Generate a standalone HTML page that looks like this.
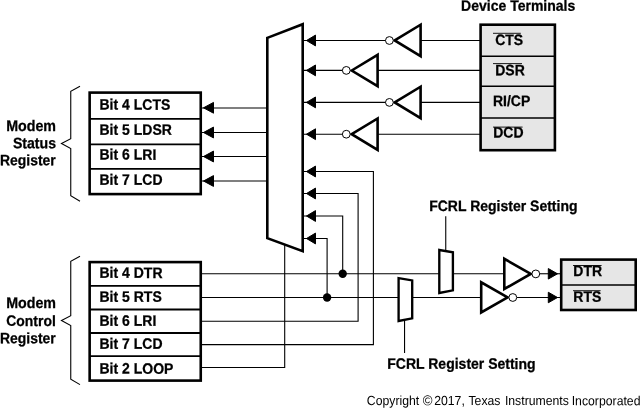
<!DOCTYPE html><html><head><meta charset="utf-8"><style>
html,body{margin:0;padding:0;background:#fff;}
svg{display:block;filter:grayscale(1);}
text{font-family:"Liberation Sans",sans-serif;fill:#000;text-rendering:geometricPrecision;}
.b{font-weight:bold;font-size:14.0px;stroke:#000;stroke-width:0.25px;}
.w{stroke:#000;stroke-width:1.1;fill:none;}
.kw{stroke:#000;stroke-width:2.6;fill:#fff;stroke-linejoin:miter;}
.c{stroke:#000;stroke-width:1;fill:#fff;}
.a{fill:#000;stroke:#000;stroke-width:1;stroke-linejoin:round;}
</style></head><body>
<svg width="642" height="411" viewBox="0 0 642 411">
<rect width="642" height="411" fill="#fff"/>
<path class="w" d="M201,108.0 H267"/>
<path class="w" d="M201,132.5 H267"/>
<path class="w" d="M201,156.5 H267"/>
<path class="w" d="M201,181.0 H267"/>
<path class="w" d="M303,40.5 H386"/>
<path class="w" d="M421,40.5 H480"/>
<path class="w" d="M303,70.4 H343"/>
<path class="w" d="M378,70.4 H480"/>
<path class="w" d="M303,102.4 H386"/>
<path class="w" d="M421,102.4 H480"/>
<path class="w" d="M303,134.2 H343"/>
<path class="w" d="M378,134.2 H480"/>
<path class="w" d="M303,171.5 H373.4 V344.6 H201"/>
<path class="w" d="M303,193.5 H358.1 V321.2 H201"/>
<path class="w" d="M303,216.0 H342.7 V273.75"/>
<path class="w" d="M303,238.5 H327.1 V297.5"/>
<path class="w" d="M201,273.75 H504"/>
<path class="w" d="M540,273.75 H560"/>
<path class="w" d="M201,297.5 H481"/>
<path class="w" d="M517,297.5 H560"/>
<path class="w" d="M201,367.5 H284.7 V245"/>
<path class="w" d="M445.75,216.2 V251"/>
<path class="w" d="M404.55,320 V353"/>
<circle cx="342.7" cy="273.75" r="4.2" fill="#000"/>
<circle cx="327.1" cy="297.5" r="4.2" fill="#000"/>
<polygon class="kw" points="267.3,37.9 302.7,24.2 302.7,251.2 267.3,238.2"/>
<polygon class="a" points="306.50,40.50 315.50,35.10 315.50,45.90"/>
<polygon class="a" points="306.50,70.40 315.50,65.00 315.50,75.80"/>
<polygon class="a" points="306.50,102.40 315.50,97.00 315.50,107.80"/>
<polygon class="a" points="306.50,134.20 315.50,128.80 315.50,139.60"/>
<polygon class="a" points="306.50,171.50 315.50,166.10 315.50,176.90"/>
<polygon class="a" points="306.50,193.50 315.50,188.10 315.50,198.90"/>
<polygon class="a" points="306.50,216.00 315.50,210.60 315.50,221.40"/>
<polygon class="a" points="306.50,238.50 315.50,233.10 315.50,243.90"/>
<polygon class="a" points="203.50,107.80 213.50,102.40 213.50,113.20"/>
<polygon class="a" points="203.50,132.50 213.50,127.10 213.50,137.90"/>
<polygon class="a" points="203.50,156.50 213.50,151.10 213.50,161.90"/>
<polygon class="a" points="203.50,181.00 213.50,175.60 213.50,186.40"/>
<polygon class="kw" style="stroke-width:2.35" points="439.3,250.0 452.9,252.3 452.9,290.3 439.3,293"/>
<polygon class="kw" style="stroke-width:2.35" points="398.6,278.2 412.2,280.4 412.2,318.4 398.6,321"/>
<polygon class="kw" points="394.70,40.40 420.60,24.70 420.60,56.10"/>
<circle class="c" cx="389.40" cy="40.50" r="3.90"/>
<polygon class="kw" points="351.70,70.50 377.60,54.80 377.60,86.20"/>
<circle class="c" cx="346.30" cy="70.40" r="3.90"/>
<polygon class="kw" points="394.70,102.40 420.60,86.70 420.60,118.10"/>
<circle class="c" cx="389.40" cy="102.40" r="3.90"/>
<polygon class="kw" points="351.70,134.20 377.60,118.50 377.60,149.90"/>
<circle class="c" cx="346.30" cy="134.20" r="3.90"/>
<polygon class="kw" points="530.70,273.90 504.30,258.80 504.30,289.00"/>
<circle class="c" cx="535.80" cy="273.90" r="3.90"/>
<polygon class="kw" points="507.60,297.40 481.20,282.30 481.20,312.50"/>
<circle class="c" cx="512.80" cy="297.50" r="3.90"/>
<polygon class="a" points="557.50,273.80 548.30,268.55 548.30,279.05"/>
<polygon class="a" points="557.50,297.50 548.30,292.25 548.30,302.75"/>
<rect class="kw" x="89.65" y="92.6" width="111.1" height="101.5"/>
<path d="M90,118.9 H200.5" stroke="#000" stroke-width="1.8"/>
<path d="M90,144.3 H200.5" stroke="#000" stroke-width="1.8"/>
<path d="M90,168.8 H200.5" stroke="#000" stroke-width="1.8"/>
<rect class="kw" x="89.65" y="262.1" width="111.1" height="118.5"/>
<path d="M90,285.8 H200.5" stroke="#000" stroke-width="1.8"/>
<path d="M90,309.5 H200.5" stroke="#000" stroke-width="1.8"/>
<path d="M90,333.0 H200.5" stroke="#000" stroke-width="1.8"/>
<path d="M90,356.2 H200.5" stroke="#000" stroke-width="1.8"/>
<rect x="480.6" y="24.7" width="74.3" height="125.5" fill="#e6e6e6" stroke="#000" stroke-width="2.6"/>
<path d="M481,56.2 H555" stroke="#000" stroke-width="1.5"/>
<path d="M481,86.3 H555" stroke="#000" stroke-width="1.5"/>
<path d="M481,118 H555" stroke="#000" stroke-width="1.5"/>
<rect x="561.2" y="259.6" width="74.5" height="50.4" fill="#e6e6e6" stroke="#000" stroke-width="2.6"/>
<path d="M562,285.1 H635" stroke="#000" stroke-width="1.5"/>
<path class="w" d="M80,86.25 L70.75,91.25 V138.75 L61.5,143.5 L70.75,148.5 V195.75 L80,201.25"/>
<path class="w" d="M80,256.25 L70.75,261.25 V315.75 L61.5,320.5 L70.75,325.5 V379.2 L80,384.6"/>
<text class="b" transform="translate(461.1,10.8) matrix(1,0.0006,0,1.075,0,0)" text-anchor="start">Device Terminals</text>
<text class="b" transform="translate(99.5,109.6) matrix(1,0.0006,0,1.075,0,0)" text-anchor="start">Bit 4 LCTS</text>
<text class="b" transform="translate(99.5,134.8) matrix(1,0.0006,0,1.075,0,0)" text-anchor="start">Bit 5 LDSR</text>
<text class="b" transform="translate(99.5,159.6) matrix(1,0.0006,0,1.075,0,0)" text-anchor="start">Bit 6 LRI</text>
<text class="b" transform="translate(99.5,184.8) matrix(1,0.0006,0,1.075,0,0)" text-anchor="start">Bit 7 LCD</text>
<text class="b" transform="translate(99.5,277.85) matrix(1,0.0006,0,1.075,0,0)" text-anchor="start">Bit 4 DTR</text>
<text class="b" transform="translate(99.5,301.75) matrix(1,0.0006,0,1.075,0,0)" text-anchor="start">Bit 5 RTS</text>
<text class="b" transform="translate(99.5,325.8) matrix(1,0.0006,0,1.075,0,0)" text-anchor="start">Bit 6 LRI</text>
<text class="b" transform="translate(99.5,348.8) matrix(1,0.0006,0,1.075,0,0)" text-anchor="start">Bit 7 LCD</text>
<text class="b" transform="translate(99.5,373.6) matrix(1,0.0006,0,1.075,0,0)" text-anchor="start">Bit 2 LOOP</text>
<text class="b" style="font-size:14.25px" transform="translate(56.0,131.0) matrix(1,0.0006,0,1.075,0,0)" text-anchor="end">Modem</text>
<text class="b" style="font-size:14.1px" transform="translate(56.0,148.2) matrix(1,0.0006,0,1.075,0,0)" text-anchor="end">Status</text>
<text class="b" style="font-size:13.95px" transform="translate(55.8,165.2) matrix(1,0.0006,0,1.075,0,0)" text-anchor="end">Register</text>
<text class="b" style="font-size:14.25px" transform="translate(56.0,308.0) matrix(1,0.0006,0,1.075,0,0)" text-anchor="end">Modem</text>
<text class="b" style="font-size:13.95px" transform="translate(55.8,325.9) matrix(1,0.0006,0,1.075,0,0)" text-anchor="end">Control</text>
<text class="b" style="font-size:13.95px" transform="translate(55.8,343.2) matrix(1,0.0006,0,1.075,0,0)" text-anchor="end">Register</text>
<text class="b" transform="translate(495.2,45) matrix(1,0.0006,0,1.075,0,0)" text-anchor="start">CTS</text>
<text class="b" transform="translate(495.2,75.3) matrix(1,0.0006,0,1.075,0,0)" text-anchor="start">DSR</text>
<text class="b" transform="translate(492.9,106.1) matrix(1,0.0006,0,1.075,0,0)" text-anchor="start">RI/CP</text>
<text class="b" transform="translate(493.2,137.5) matrix(1,0.0006,0,1.075,0,0)" text-anchor="start">DCD</text>
<text class="b" transform="translate(573.3,276.1) matrix(1,0.0006,0,1.075,0,0)" text-anchor="start">DTR</text>
<text class="b" transform="translate(573.3,301.8) matrix(1,0.0006,0,1.075,0,0)" text-anchor="start">RTS</text>
<text class="b" transform="translate(429.2,210.9) matrix(1,0.0006,0,1.075,0,0)" text-anchor="start">FCRL Register Setting</text>
<text class="b" transform="translate(387.3,368.8) matrix(1,0.0006,0,1.075,0,0)" text-anchor="start">FCRL Register Setting</text>
<path d="M493.0,33.3 H520.8" stroke="#000" stroke-width="0.9" opacity="1"/>
<path d="M493.0,63.6 H522.0" stroke="#000" stroke-width="0.9" opacity="1"/>
<path d="M493.0,127.1 H522.6" stroke="#000" stroke-width="0.9" opacity="1"/>
<path d="M573.0,265.5 H601.6" stroke="#000" stroke-width="0.9" opacity="1"/>
<path d="M573.0,290.7 H600.6" stroke="#000" stroke-width="0.9" opacity="1"/>
<text transform="translate(366.8,405.0) matrix(1,0.0006,0,1.075,0,0)" style="font-size:12.25px">Copyright <tspan style="font-size:13.2px" dx="0.2" dy="0.3">©</tspan><tspan dx="-1.8" dy="-0.3"> 2017,</tspan><tspan dx="0.5"> Texas</tspan><tspan dx="1.0"> Instruments</tspan><tspan dx="-0.6"> Incorporated</tspan></text>
</svg></body></html>
